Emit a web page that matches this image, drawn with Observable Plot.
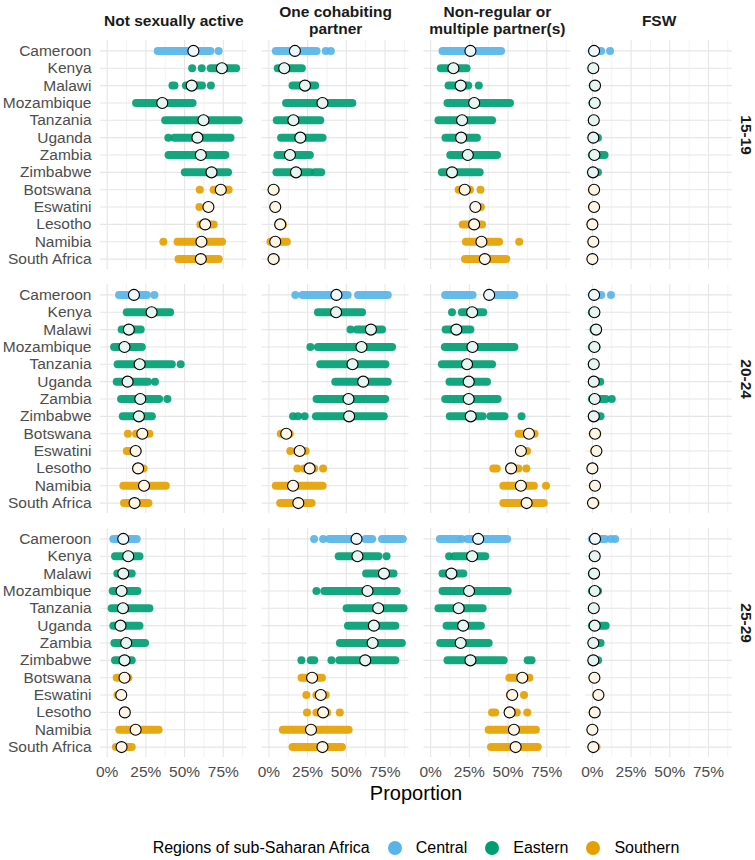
<!DOCTYPE html>
<html><head><meta charset="utf-8">
<script src="https://cdn.jsdelivr.net/npm/d3@7"></script>
<script src="https://cdn.jsdelivr.net/npm/@observablehq/plot@0.6"></script>
<style>
body{margin:0;background:#fff;font-family:"Liberation Sans",Arial,sans-serif;}
#wrap{position:relative;width:755px;height:860px;}
#xlabel{position:absolute;left:100px;width:632px;top:781px;text-align:center;font-size:20px;line-height:24px;color:#000;}
#legend{position:absolute;left:100px;width:632px;top:838px;height:20px;display:flex;justify-content:center;align-items:center;font-size:16px;color:#000;}
#legend .sw{display:inline-block;width:14px;height:14px;border-radius:50%;margin:0 14px 0 18px;}
</style></head><body><div id="wrap"><div id="chart"></div><div id="xlabel">Proportion</div><div id="legend"></div></div>
<script>
const countries = ["Cameroon","Kenya","Malawi","Mozambique","Tanzania","Uganda","Zambia","Zimbabwe","Botswana","Eswatini","Lesotho","Namibia","South Africa"];
const countryRegion = ["Central","Eastern","Eastern","Eastern","Eastern","Eastern","Eastern","Eastern","Southern","Southern","Southern","Southern","Southern"];
const ages = ["15-19","20-24","25-29"];
const types = ["Not sexually active","One cohabiting partner","Non-regular or multiple partner(s)","FSW"];
const typeHeaders = ["Not sexually active","One cohabiting\npartner","Non-regular or\nmultiple partner(s)","FSW"];
const regions = ["Central","Eastern","Southern"];
const regionColors = ["#56B4E9","#009E73","#E69F00"];
const xTicks = [0, 0.25, 0.5, 0.75];
const xTickLabels = ["0%","25%","50%","75%"];
const xGridMinor = [0.125, 0.375, 0.625, 0.875];

// ---- 15-19 ----
const mean1519_none = [0.557,0.741,0.546,0.356,0.622,0.583,0.605,0.674,0.734,0.654,0.633,0.609,0.605];
const spread1519_none = [
 [[0.33,0.67],[0.72,0.72]],
 [[0.549,0.549],[0.611,0.611],[0.672,0.836]],
 [[0.425,0.438],[0.512,0.616],[0.67,0.67]],
 [[0.19,0.555]],
 [[0.378,0.853]],
 [[0.395,0.395],[0.438,0.80]],
 [[0.40,0.767]],
 [[0.505,0.784]],
 [[0.598,0.598],[0.691,0.788]],
 [[0.596,0.596],[0.645,0.66]],
 [[0.605,0.691]],
 [[0.363,0.363],[0.458,0.745]],
 [[0.464,0.724]]
];
const mean1519_cohab = [0.168,0.099,0.233,0.346,0.158,0.203,0.136,0.175,0.030,0.041,0.073,0.041,0.030];
const spread1519_cohab = [
 [[0.048,0.311],[0.367,0.367],[0.40,0.40]],
 [[0.06,0.216]],
 [[0.156,0.302]],
 [[0.114,0.542]],
 [[0.054,0.335]],
 [[0.082,0.35]],
 [[0.058,0.268]],
 [[0.052,0.27],[0.30,0.341]],
 [[0.022,0.048]],
 [[0.035,0.045]],
 [[0.065,0.095]],
 [[0.013,0.119]],
 [[0.02,0.05]]
];
const mean1519_nonreg = [0.257,0.147,0.194,0.281,0.203,0.197,0.24,0.138,0.22,0.289,0.281,0.328,0.35];
const spread1519_nonreg = [
 [[0.08,0.458]],
 [[0.069,0.235]],
 [[0.119,0.246],[0.311,0.311]],
 [[0.112,0.516]],
 [[0.054,0.40]],
 [[0.099,0.302]],
 [[0.13,0.432]],
 [[0.076,0.32]],
 [[0.184,0.257],[0.322,0.322]],
 [[0.285,0.328]],
 [[0.21,0.335]],
 [[0.231,0.445],[0.572,0.572]],
 [[0.225,0.492]]
];
const mean1519_fsw = [0.011,0.006,0.017,0.015,0.009,0.006,0.013,0.004,0.011,0.011,0.0,0.006,0.0];
const spread1519_fsw = [
 [[0.0,0.06],[0.114,0.114]],
 [[0.0,0.012]],
 [[0.005,0.03]],
 [[0.003,0.03]],
 [[0.0,0.015]],
 [[0.0,0.039]],
 [[0.0,0.082]],
 [[0.0,0.039]],
 [[0.0,0.02]],
 [[0.0,0.02]],
 [[0.0,0.005]],
 [[0.0,0.01]],
 [[0.0,0.005]]
];

// ---- 20-24 ----
const mean2024_none = [0.173,0.287,0.14,0.112,0.21,0.132,0.214,0.205,0.227,0.184,0.2,0.238,0.177];
const spread2024_none = [
 [[0.08,0.26],[0.305,0.305]],
 [[0.13,0.41]],
 [[0.097,0.22]],
 [[0.048,0.227]],
 [[0.071,0.421],[0.475,0.475]],
 [[0.065,0.266],[0.309,0.309]],
 [[0.093,0.339],[0.389,0.389]],
 [[0.104,0.292]],
 [[0.134,0.134],[0.19,0.276]],
 [[0.13,0.2]],
 [[0.19,0.238]],
 [[0.108,0.382]],
 [[0.112,0.27]]
];
const mean2024_cohab = [0.436,0.434,0.659,0.598,0.54,0.609,0.514,0.518,0.112,0.199,0.263,0.156,0.19];
const spread2024_cohab = [
 [[0.171,0.171],[0.22,0.512],[0.579,0.771]],
 [[0.32,0.605]],
 [[0.527,0.527],[0.572,0.734]],
 [[0.268,0.268],[0.32,0.799]],
 [[0.335,0.756]],
 [[0.432,0.771]],
 [[0.311,0.754]],
 [[0.156,0.156],[0.188,0.188],[0.231,0.231],[0.307,0.745]],
 [[0.08,0.138]],
 [[0.138,0.138],[0.18,0.24]],
 [[0.184,0.184],[0.23,0.296],[0.35,0.35]],
 [[0.048,0.35]],
 [[0.076,0.279]]
];
const mean2024_nonreg = [0.378,0.268,0.166,0.27,0.235,0.246,0.246,0.259,0.635,0.583,0.52,0.583,0.62];
const spread2024_nonreg = [
 [[0.097,0.274],[0.371,0.544]],
 [[0.138,0.138],[0.205,0.343]],
 [[0.10,0.26]],
 [[0.095,0.544]],
 [[0.076,0.40]],
 [[0.125,0.367]],
 [[0.097,0.436]],
 [[0.127,0.339],[0.39,0.48],[0.587,0.587]],
 [[0.572,0.674]],
 [[0.587,0.626]],
 [[0.408,0.43],[0.51,0.57],[0.618,0.618]],
 [[0.473,0.67],[0.745,0.745]],
 [[0.473,0.734]]
];
const mean2024_fsw = [0.011,0.013,0.024,0.013,0.009,0.009,0.015,0.009,0.017,0.026,0.0,0.017,0.004];
const spread2024_fsw = [
 [[0.0,0.06],[0.12,0.12]],
 [[0.0,0.015]],
 [[0.01,0.04]],
 [[0.0,0.03]],
 [[0.0,0.015]],
 [[0.0,0.054]],
 [[0.0,0.09],[0.125,0.125]],
 [[0.0,0.056]],
 [[0.005,0.035]],
 [[0.015,0.03]],
 [[0.0,0.005]],
 [[0.005,0.03]],
 [[0.0,0.025]]
];

// ---- 25-29 ----
const mean2529_none = [0.104,0.136,0.104,0.093,0.102,0.086,0.123,0.112,0.112,0.091,0.114,0.184,0.093];
const spread2529_none = [
 [[0.043,0.194]],
 [[0.054,0.212]],
 [[0.069,0.162]],
 [[0.039,0.199]],
 [[0.032,0.276]],
 [[0.043,0.212]],
 [[0.05,0.248]],
 [[0.054,0.162]],
 [[0.065,0.14]],
 [[0.07,0.1]],
 [[0.105,0.12]],
 [[0.082,0.335]],
 [[0.06,0.162]]
];
const mean2529_cohab = [0.566,0.572,0.743,0.637,0.706,0.678,0.67,0.622,0.279,0.335,0.35,0.272,0.346];
const spread2529_cohab = [
 [[0.292,0.292],[0.35,0.35],[0.393,0.577],[0.627,0.67],[0.734,0.868]],
 [[0.454,0.711],[0.76,0.76]],
 [[0.631,0.808]],
 [[0.307,0.307],[0.361,0.829]],
 [[0.505,0.873]],
 [[0.514,0.82]],
 [[0.462,0.862]],
 [[0.21,0.21],[0.274,0.296],[0.404,0.404],[0.458,0.82]],
 [[0.214,0.346]],
 [[0.242,0.242],[0.31,0.37]],
 [[0.246,0.246],[0.31,0.38],[0.458,0.458]],
 [[0.093,0.518]],
 [[0.156,0.475]]
];
const mean2529_nonreg = [0.307,0.268,0.134,0.248,0.181,0.21,0.194,0.257,0.592,0.527,0.51,0.538,0.549];
const spread2529_nonreg = [
 [[0.063,0.18],[0.2,0.2],[0.24,0.497]],
 [[0.119,0.119],[0.155,0.356]],
 [[0.08,0.214]],
 [[0.08,0.501]],
 [[0.054,0.339]],
 [[0.106,0.328]],
 [[0.065,0.378]],
 [[0.112,0.475],[0.63,0.655]],
 [[0.512,0.641]],
 [[0.515,0.54],[0.603,0.603]],
 [[0.40,0.42],[0.51,0.56],[0.624,0.624]],
 [[0.378,0.683]],
 [[0.393,0.695]]
];
const mean2529_fsw = [0.017,0.015,0.011,0.015,0.009,0.015,0.006,0.006,0.013,0.039,0.015,0.0,0.006];
const spread2529_fsw = [
 [[0.0,0.085],[0.12,0.12],[0.147,0.147]],
 [[0.005,0.02]],
 [[0.0,0.015]],
 [[0.0,0.04]],
 [[0.0,0.015]],
 [[0.0,0.089]],
 [[0.0,0.056]],
 [[0.0,0.04]],
 [[0.005,0.02]],
 [[0.03,0.04]],
 [[0.005,0.02]],
 [[0.0,0.005]],
 [[0.0,0.03]]
];

const panelMeans = [
  [mean1519_none, mean1519_cohab, mean1519_nonreg, mean1519_fsw],
  [mean2024_none, mean2024_cohab, mean2024_nonreg, mean2024_fsw],
  [mean2529_none, mean2529_cohab, mean2529_nonreg, mean2529_fsw]
];
const panelSpreads = [
  [spread1519_none, spread1519_cohab, spread1519_nonreg, spread1519_fsw],
  [spread2024_none, spread2024_cohab, spread2024_nonreg, spread2024_fsw],
  [spread2529_none, spread2529_cohab, spread2529_nonreg, spread2529_fsw]
];

const meanRows = [], segRows = [], dotRows = [];
ages.forEach((age, i) => types.forEach((type, j) => countries.forEach((country, k) => {
  const region = countryRegion[k];
  meanRows.push({age, type, country, region, value: panelMeans[i][j][k]});
  panelSpreads[i][j][k].forEach(([lo, hi]) => {
    if (hi > lo) segRows.push({age, type, country, region, lo, hi});
    else dotRows.push({age, type, country, region, value: lo});
  });
})));

const tints = regionColors.map(c => d3.interpolateRgb("#ffffff", c)(0.1));

const chart = Plot.plot({
  width: 755, height: 787,
  marginLeft: 100, marginRight: 23, marginTop: 40, marginBottom: 30,
  style: {fontFamily: "Liberation Sans, Arial, sans-serif", fontSize: "15px", background: "#fff"},
  x: {domain: [-0.043, 0.905], round: false},
  y: {type: "point", domain: countries, padding: 0.6, round: false},
  fx: {domain: types, paddingInner: 15/162, paddingOuter: 0, round: false, axis: null},
  fy: {domain: ages, paddingInner: 15/244, paddingOuter: 0, round: false, axis: null},
  color: {domain: regions, range: regionColors},
  marks: [
    Plot.ruleX(xGridMinor, {stroke: "#ededed", strokeWidth: 0.7}),
    Plot.ruleX(xTicks, {stroke: "#e6e6e6", strokeWidth: 1.1}),
    Plot.ruleY(countries, {stroke: "#e6e6e6", strokeWidth: 1.1}),
    Plot.ruleY(segRows, {y: "country", x1: "lo", x2: "hi", fx: "type", fy: "age", stroke: "region", strokeWidth: 8, strokeLinecap: "round", strokeOpacity: 0.92}),
    Plot.dot(dotRows, {x: "value", y: "country", fx: "type", fy: "age", fill: "region", r: 4, fillOpacity: 0.92}),
    ...regions.map((r, i) => Plot.dot(meanRows.filter(d => d.region === r), {x: "value", y: "country", fx: "type", fy: "age", r: 5.5, fill: tints[i], stroke: "#000", strokeWidth: 1.1})),
    Plot.axisX({ticks: xTicks, tickFormat: (d) => xTickLabels[xTicks.indexOf(d)], tickSize: 0, tickPadding: 8, fontSize: 15.5, color: "#4d4d4d", label: null}),
    Plot.axisY({tickSize: 0, tickPadding: 9, fontSize: 15.5, color: "#4d4d4d", label: null}),
    Plot.text(types, {fx: d => d, text: (d, i) => typeHeaders[i], frameAnchor: "top", dy: -20, lineAnchor: "middle", lineHeight: 1.1, fontWeight: "bold", fontSize: 15.5, fill: "#1a1a1a", facetAnchor: "top"}),
    Plot.text(ages, {fy: d => d, text: d => d, frameAnchor: "right", dx: 13, rotate: 90, fontWeight: "bold", fontSize: 15.5, fill: "#1a1a1a", facetAnchor: "right"})
  ]
});
document.getElementById("chart").appendChild(chart);

const legend = document.getElementById("legend");
const title = document.createElement("span");
title.textContent = "Regions of sub-Saharan Africa";
legend.appendChild(title);
regions.forEach((r, i) => {
  const sw = document.createElement("span");
  sw.className = "sw";
  sw.style.background = regionColors[i];
  legend.appendChild(sw);
  const t = document.createElement("span");
  t.textContent = r;
  legend.appendChild(t);
});
</script></body></html>
